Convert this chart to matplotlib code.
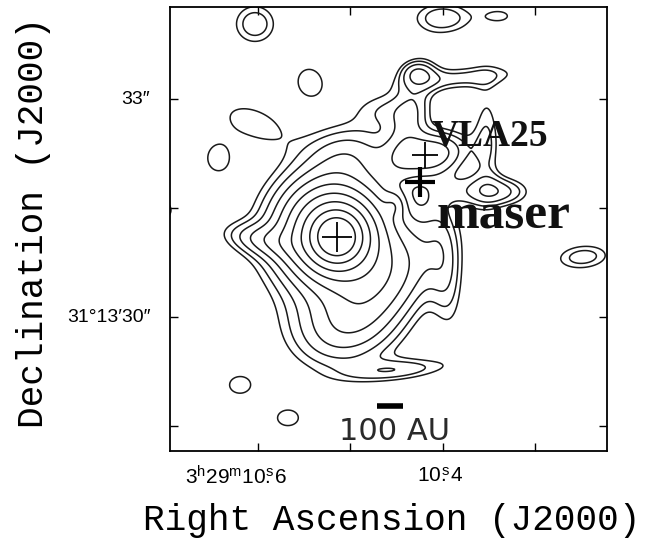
import numpy as np
import matplotlib
matplotlib.use("Agg")
import matplotlib.pyplot as plt

plt.rcParams["mathtext.fontset"] = "custom"
plt.rcParams["mathtext.rm"] = "Liberation Sans"

# map frame: RA in seconds of 3h29m, Dec in arcsec past +31d13'
ra_lim = (10.6951, 10.2227)
dec_lim = (28.156, 34.266)
ra_ticks = [10.6, 10.5, 10.4, 10.3]
dec_ticks = [28.5, 30.0, 31.5, 33.0]
ra_labels = {10.5676: r"$\mathrm{3^{h}29^{m}10\overset{s}{.}6}$",
             10.4032: r"$\mathrm{10\overset{s}{.}4}$"}
dec_labels = {33.0: "33\u2033", 30.0: "31\u00b013\u203230\u2033"}

# compact continuum core (exponential profile)
core_ra = 10.5146
core_dec = 31.101
core_peak = 48.0
core_scale = 0.29  # arcsec

# extended emission and weak knots, elliptical gaussians
comp_ra = [10.5384, 10.5957, 10.5006, 10.4627, 10.5114, 10.4466, 10.3978,
           10.4119, 10.4357, 10.4281, 10.3795, 10.3527, 10.3384, 10.3710,
           10.4627, 10.4519,
           10.6032, 10.4000, 10.3384, 10.5438, 10.6065, 10.6432, 10.2486,
           10.6195, 10.5676, 10.7027, 10.2465, 10.2141]
comp_dec = [31.472, 31.060, 32.298, 30.440, 29.821, 29.271, 30.647,
            32.243, 32.711, 33.371, 33.289, 32.436, 31.720, 31.748,
            32.848, 31.541,
            34.032, 34.114, 34.142, 33.234, 32.683, 32.188, 30.826,
            29.064, 28.610, 31.472, 28.005, 28.445]
comp_peak = [1.8, 1.8, 1.4, 3.2, 1.9, 1.6, 1.5,
             3.3, 1.5, 1.9, 1.6, 1.35, 1.7, 1.1,
             1.2, 1.3,
             1.8, 1.8, 1.1, 1.3, 1.3, 1.3, 1.7,
             1.3, 1.3, 1.3, 1.3, 1.2]
comp_major = [0.55, 0.39, 0.41, 0.69, 0.55, 0.53, 0.62,
              0.35, 0.55, 0.17, 0.62, 0.55, 0.30, 0.41,
              0.35, 0.12,
              0.235, 0.32, 0.20, 0.235, 0.40, 0.21, 0.30,
              0.19, 0.19, 0.15, 0.35, 0.15]
comp_minor = [0.41, 0.15, 0.25, 0.35, 0.39, 0.11, 0.17,
              0.21, 0.19, 0.12, 0.12, 0.14, 0.14, 0.17,
              0.19, 0.10,
              0.22, 0.17, 0.10, 0.21, 0.21, 0.18, 0.14,
              0.15, 0.14, 0.15, 0.17, 0.15]
comp_pa = [135, 80, 90, 135, 90, 95, 5,
           100, 165, 90, 95, 0, 90, 90,
           90, 0,
           90, 90, 90, 20, 70, 0, 95,
           90, 90, 0, 90, 0]

levels = [1.4 ** k for k in range(10)]

src_ra = {"main": 10.5146, "VLA25": 10.4195, "maser": 10.4249}
src_dec = {"main": 31.101, "VLA25": 32.229, "maser": 31.858}

bar_ra = (10.4714, 10.4433)
bar_dec = 28.775

cosd = 15.0 * np.cos(np.radians(31.22))

ra = np.linspace(10.72, 10.20, 520)
dec = np.linspace(28.0, 34.4, 540)
RA, DEC = np.meshgrid(ra, dec)

dx = (RA - core_ra) * cosd
dy = DEC - core_dec
flux = core_peak * np.exp(-np.hypot(dx, dy) / core_scale)

for r0, d0, amp, smaj, smin, pa in zip(comp_ra, comp_dec, comp_peak,
                                       comp_major, comp_minor, comp_pa):
    ex = (RA - r0) * cosd
    ny = DEC - d0
    t = np.radians(pa)
    a = ny * np.cos(t) + ex * np.sin(t)
    b = -ny * np.sin(t) + ex * np.cos(t)
    flux += amp * np.exp(-0.5 * ((a / smaj) ** 2 + (b / smin) ** 2))

fig = plt.figure(figsize=(6.46, 5.43), dpi=100)
ax = fig.add_axes([0.263, 0.1694, 0.6765, 0.8177])

ax.contour(RA, DEC, flux, levels=levels, colors="#1a1a1a", linewidths=1.1)

# source crosses
ax.plot(src_ra["main"], src_dec["main"], marker="+", ms=22, mew=1.3, color="k")
ax.plot(src_ra["VLA25"], src_dec["VLA25"], marker="+", ms=19, mew=1.3, color="k")
ax.plot(src_ra["maser"], src_dec["maser"], marker="+", ms=22, mew=3.0, color="k")

ax.text(10.4119, 32.36, "VLA25", fontsize=27, fontweight="bold",
        family="Liberation Serif", color="#111111", va="baseline", ha="left")
ax.text(10.4065, 31.22, "maser", fontsize=37, fontweight="bold",
        family="Liberation Serif", color="#111111", va="baseline", ha="left")

# linear scale bar
ax.plot(bar_ra, [bar_dec, bar_dec], color="k", lw=4, solid_capstyle="butt")
ax.text(10.452, 28.42, "100 AU", fontsize=22, family="DejaVu Sans",
        ha="center", va="center", color="#2a2a2a")

ax.set_xlim(*ra_lim)
ax.set_ylim(*dec_lim)
ax.set_xticks(ra_ticks)
ax.set_yticks(dec_ticks)
ax.set_xticklabels([])
ax.set_yticklabels([])
ax.tick_params(direction="in", length=6, width=1.0, top=True, right=True)
for s in ax.spines.values():
    s.set_linewidth(1.3)

tx = ax.get_xaxis_transform()
ax.text(10.5676, -0.058, ra_labels[10.5676], transform=tx, ha="right",
        va="center", fontsize=15)
ax.text(10.4032, -0.058, ra_labels[10.4032], transform=tx, ha="center",
        va="center", fontsize=15)
for v, txt in dec_labels.items():
    ax.text(-0.045, v, txt, transform=ax.get_yaxis_transform(),
            ha="right", va="center", fontsize=14, family="Liberation Sans")

fig.text(0.607, 0.041, "Right Ascension (J2000)", fontsize=26,
         family="Liberation Mono", ha="center", va="center")
fig.text(0.052, 0.591, "Declination (J2000)", fontsize=26, rotation=90,
         family="Liberation Mono", ha="center", va="center")

fig.savefig("out.png", dpi=100)
